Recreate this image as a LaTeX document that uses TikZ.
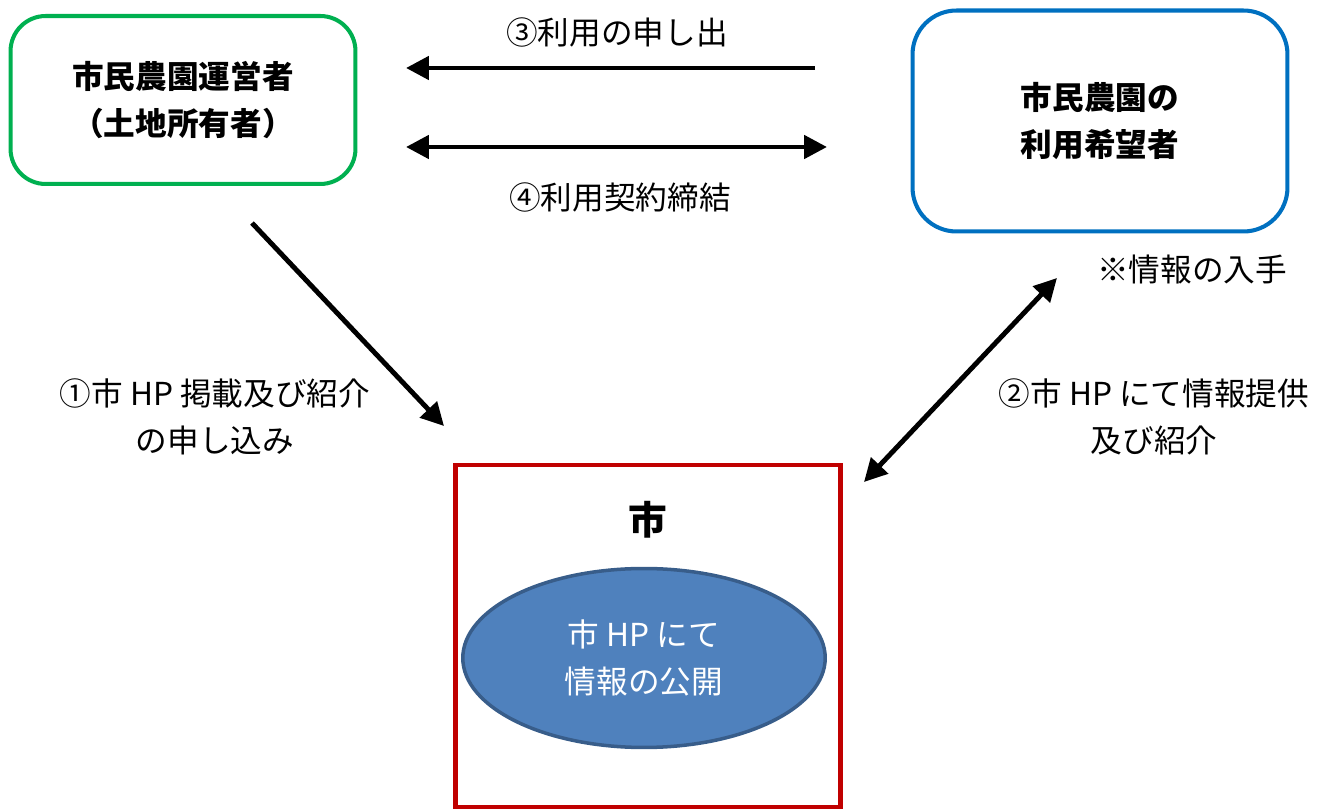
\documentclass[tikz,border=0pt]{standalone}
\usepackage{fontspec}
\setmainfont{Noto Sans CJK JP}
\usetikzlibrary{positioning}
\usetikzlibrary{shapes.geometric}
\usetikzlibrary{arrows.meta}

\definecolor{farmgreen}{HTML}{00B050}
\definecolor{userblue}{HTML}{0070C0}
\definecolor{cityred}{HTML}{C00000}
\definecolor{ovalfill}{HTML}{4F81BD}
\definecolor{ovaldraw}{HTML}{385D8A}

\tikzset{
	txt/.style={font=\fontsize{18}{27}\selectfont, align=center, inner sep=0pt},
	party/.style={draw, line width=2.3pt, txt, font=\fontsize{18}{27}\selectfont\bfseries},
	flow/.style={line width=2.8pt, -{Triangle[length=13pt, width=13pt]}},
	flowboth/.style={flow, {Triangle[length=13pt, width=13pt]}-{Triangle[length=13pt, width=13pt]}}
}

\begin{document}
\begin{tikzpicture}[x=0.02cm, y=-0.02cm]
	\useasboundingbox (0,0) rectangle (1330,810);
	% boxes
	\node[party, draw=farmgreen, rounded corners=20pt, minimum width=6.9cm, minimum height=3.36cm](owner) at (183,100){市民農園運営者\\（土地所有者）};
	\node[party, draw=userblue, rounded corners=25pt, minimum width=7.5cm, minimum height=4.42cm](user) at (1100,121){市民農園の\\利用希望者};
	\node[draw=cityred, line width=2.5pt, minimum width=7.7cm, minimum height=6.84cm](city) at (648,636){};
	\node[txt, font=\fontsize{22}{27}\selectfont\bfseries](citylabel) at (648,520){市};
	\node[ellipse, draw=ovaldraw, fill=ovalfill, line width=2pt, minimum width=7.25cm, minimum height=3.58cm, txt, text=white](hp) at (644,658){市 HP にて\\情報の公開};
	% arrow ends
	\coordinate (s3) at (815,68);
	\coordinate (e3) at (406,68);
	\coordinate (s4) at (406,147);
	\coordinate (e4) at (827,147);
	\coordinate (s1) at (252,223);
	\coordinate (e1) at (444,426);
	\coordinate (s2) at (864,482);
	\coordinate (e2) at (1057,278);
	% connectors
	\draw[flow] (s3) -- (e3);
	\draw[flowboth] (s4) -- (e4);
	\draw[flow] (s1) -- (e1);
	\draw[flowboth] (s2) -- (e2);
	% labels
	\node[txt](apply) at (617,32){③利用の申し出};
	\node[txt](contract) at (620,197){④利用契約締結};
	\node[txt](request) at (215,417){①市 HP 掲載及び紹介\\の申し込み};
	\node[txt](provide) at (1154,417){②市 HP にて情報提供\\及び紹介};
	\node[txt](obtain) at (1192,270){※情報の入手};
\end{tikzpicture}
\end{document}
